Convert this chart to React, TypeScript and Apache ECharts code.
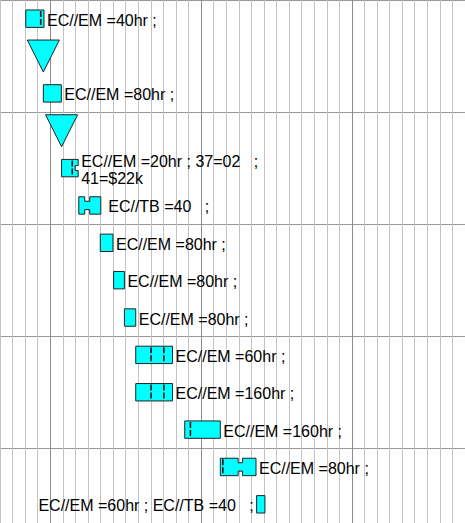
import React, { useEffect, useRef } from "react";
import * as echarts from "echarts";

// Task rows (top to bottom)
const rowIds = ["T1", "M1", "T2", "M2", "T3", "T4", "T5", "T6", "T7", "T8", "T9", "T10", "T11", "T12"];
const taskKind = ["bar", "milestone", "bar", "milestone", "bar", "bar", "bar", "bar", "bar", "bar", "bar", "bar", "bar", "bar"];
// time positions in grid units (one minor grid step = 1, major step = 12)
const taskStart = [-1.95, -0.55, -0.55, 0.9, 0.9, 2.27, 3.98, 5.04, 5.9, 6.8, 6.8, 10.7, 13.53, 16.42];
const taskEnd = [-0.5, -0.55, 0.88, 0.9, 2.22, 4.02, 4.99, 5.9, 6.8, 9.73, 9.73, 13.53, 16.37, 17.08];
const taskLabel = [
  "EC//EM =40hr ;",
  "",
  "EC//EM =80hr ;",
  "",
  "EC//EM =20hr ; 37=02   ;\n41=$22k",
  " EC//TB =40   ;",
  "EC//EM =80hr ;",
  "EC//EM =80hr ;",
  "EC//EM =80hr ;",
  "EC//EM =60hr ;",
  "EC//EM =160hr ;",
  "EC//EM =160hr ;",
  "EC//EM =80hr ;",
  "EC//EM =60hr ; EC//TB =40   ;",
];
const labelSide = ["right", "right", "right", "right", "right", "right", "right", "right", "right", "right", "right", "right", "right", "left"];
const taskMarks = [[-0.76], [], [], [], [1.75], [], [], [], [], [8.02, 9.04], [8.02, 9.04], [11.15], [13.73], []];
const taskNotch = [[], [], [], [], [], [2.74, 3.14], [], [], [], [], [], [], [14.95, 15.3], []];
const taskNotchRight = [false, false, false, false, true, false, false, false, false, false, false, false, false, false];

// x axis range (grid units)
const xMin = -4;
const xMax = 33;

const minorColor = "#c4c4c4";
const majorColor = "#8c8c8c";

export default function App() {
  const ref = useRef<HTMLDivElement>(null);

  useEffect(() => {
    if (!ref.current) return;
    const chart = echarts.init(ref.current, null, { renderer: "svg" });

    const lineColors: string[] = [];
    for (let k = 0; k < 12; k++) lineColors.push(k === 4 ? majorColor : minorColor);

    const data = taskStart.map((s, i) => [s, i, taskEnd[i], i]);

    const font = '16px "Liberation Sans", Arial, sans-serif';

    const renderItem = (params: any, api: any) => {
      const i = api.value(3);
      const row = api.value(1);
      const p0 = api.coord([api.value(0), row]);
      const p1 = api.coord([api.value(2), row]);
      const cy = p0[1];
      const children: any[] = [];
      const stroke = "#222";
      if (taskKind[i] === "milestone") {
        const cx = p0[0];
        children.push({
          type: "polygon",
          shape: { points: [[cx - 16, cy - 16], [cx + 16, cy - 16], [cx, cy + 16]] },
          style: { fill: "#00ffff", stroke, lineWidth: 1 },
        });
      } else {
        const x0 = p0[0];
        const x1 = p1[0];
        const y0 = cy - 8.7;
        const y1 = cy + 8.7;
        const d = 4.5;
        const pts: number[][] = [[x0, y0]];
        const notch = taskNotch[i];
        let n0 = 0, n1 = 0;
        if (notch.length === 2) {
          n0 = api.coord([notch[0], row])[0];
          n1 = api.coord([notch[1], row])[0];
          pts.push([n0, y0], [n0, y0 + d], [n1, y0 + d], [n1, y0]);
        }
        pts.push([x1, y0]);
        if (taskNotchRight[i]) {
          pts.push([x1, cy - 2.5], [x1 - 3, cy - 2.5], [x1 - 3, cy + 2.5], [x1, cy + 2.5]);
        }
        pts.push([x1, y1]);
        if (notch.length === 2) {
          pts.push([n1, y1], [n1, y1 - d], [n0, y1 - d], [n0, y1]);
        }
        pts.push([x0, y1]);
        children.push({
          type: "polygon",
          shape: { points: pts },
          style: { fill: "#00ffff", stroke, lineWidth: 1 },
        });
        taskMarks[i].forEach((m: number) => {
          const mx = api.coord([m, row])[0];
          children.push({
            type: "line",
            shape: { x1: mx, y1: y0 + 1, x2: mx, y2: y1 - 1 },
            style: { stroke: "#111", lineWidth: 1.6, lineDash: [6, 2] },
          });
        });
        const txt = taskLabel[i];
        if (txt) {
          const left = labelSide[i] === "left";
          children.push({
            type: "text",
            style: {
              text: txt,
              x: left ? x0 - 3 : x1 + 3,
              y: cy + 1.5,
              fill: "#000",
              font,
              align: left ? "right" : "left",
              verticalAlign: "middle",
              lineHeight: 17,
            },
          });
        }
      }
      return { type: "group", children };
    };

    chart.setOption({
      animation: false,
      backgroundColor: "#ffffff",
      grid: { left: -1, right: -2, top: -1.3, bottom: -4.9, containLabel: false },
      xAxis: {
        type: "value",
        min: xMin,
        max: xMax,
        interval: 1,
        axisLine: { show: false },
        axisTick: { show: false },
        axisLabel: { show: false },
        splitLine: { show: true, lineStyle: { color: lineColors, width: 1 } },
      },
      yAxis: {
        type: "category",
        data: rowIds,
        inverse: true,
        axisLine: { show: false },
        axisTick: { show: false },
        axisLabel: { show: false },
        splitLine: { show: true, interval: 2, lineStyle: { color: "#999999", width: 1 } },
      },
      series: [
        {
          type: "custom",
          renderItem,
          data,
          encode: { x: [0, 2], y: 1 },
          clip: false,
        },
      ],
    });

    return () => {
      chart.dispose();
    };
  }, []);

  return (
    <div
      ref={ref}
      style={{ position: "fixed", left: 0, top: 0, width: 465, height: 523, background: "#fff" }}
    />
  );
}
